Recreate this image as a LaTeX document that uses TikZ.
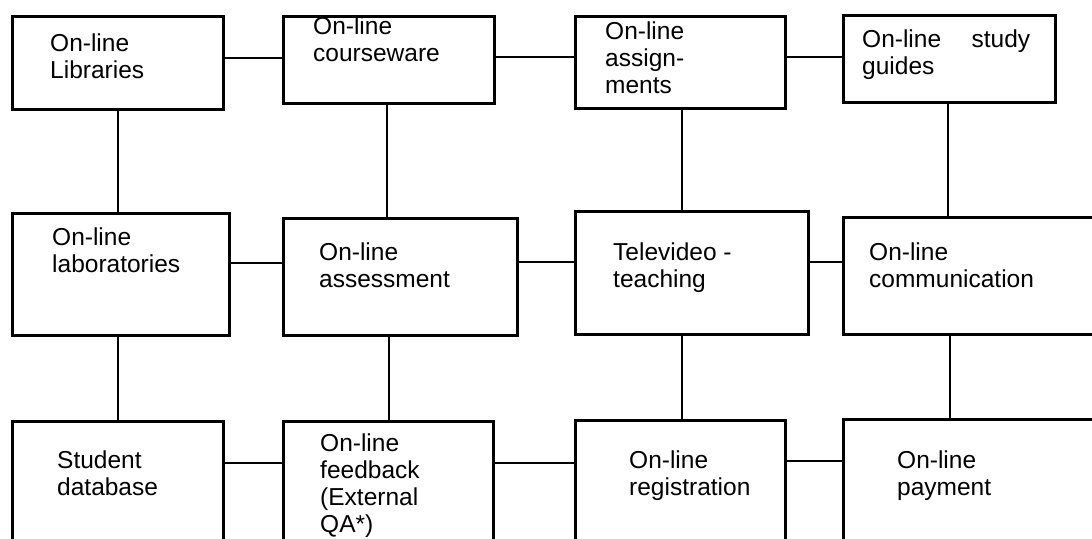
\documentclass[tikz,border=0pt]{standalone}
\usepackage{fontspec}
\setmainfont{Liberation Sans}
\begin{document}
\begin{tikzpicture}[x=1pt,y=-1pt,
  box/.style={draw=black, line width=2.7pt, rectangle, anchor=north west, inner sep=0pt},
  lbl/.style={anchor=base west, inner sep=0pt, align=left, font=\fontsize{24.5}{27}\selectfont},
  link/.style={draw=black, line width=2.2pt}]
\clip (0,0) rectangle (1092,538);
\fill[white] (0,0) rectangle (1092,538);
% boxes: (left, top), width, height
\node[box, minimum width=211pt, minimum height=93pt] (b1) at (11,15) {};
\node[box, minimum width=211pt, minimum height=87pt] (b2) at (282,15) {};
\node[box, minimum width=210pt, minimum height=92pt] (b3) at (574,15) {};
\node[box, minimum width=212pt, minimum height=87pt] (b4) at (842,14) {};
\node[box, minimum width=217pt, minimum height=122pt] (b5) at (11,212) {};
\node[box, minimum width=234pt, minimum height=117pt] (b6) at (282,217) {};
\node[box, minimum width=233pt, minimum height=123pt] (b7) at (574,210) {};
\node[box, minimum width=260pt, minimum height=117pt] (b8) at (842,216) {};
\node[box, minimum width=211pt, minimum height=150pt] (b9) at (11,420) {};
\node[box, minimum width=210pt, minimum height=150pt] (b10) at (282,420) {};
\node[box, minimum width=210pt, minimum height=150pt] (b11) at (574,419) {};
\node[box, minimum width=260pt, minimum height=150pt] (b12) at (842,418) {};
% texts (anchor = baseline of the last line)
\node[lbl] (t1) at (50,78) {On-line\\Libraries};
\node[lbl] (t2) at (313,61) {On-line\\courseware};
\node[lbl] (t3) at (605,93) {On-line\\assign-\\ments};
\node[lbl, text width=168pt] (t4) at (862,47) {On-line\hfill study\\guides};
\node[lbl] (t5) at (52,272) {On-line\\laboratories};
\node[lbl] (t6) at (319,287) {On-line\\assessment};
\node[lbl] (t7) at (613,287) {Televideo -\\teaching};
\node[lbl] (t8) at (869,287) {On-line\\communication};
\node[lbl] (t9) at (57,495) {Student\\database};
\node[lbl] (t10) at (320,532) {On-line\\feedback\\(External\\QA*)};
\node[lbl] (t11) at (629,495) {On-line\\registration};
\node[lbl] (t12) at (897,495) {On-line\\payment};
% horizontal connectors
\draw[link] (b1.east |- 0,58) -- (b2.west |- 0,58);
\draw[link] (b2.east |- 0,57) -- (b3.west |- 0,57);
\draw[link] (b3.east |- 0,57) -- (b4.west |- 0,57);
\draw[link] (b5.east |- 0,263) -- (b6.west |- 0,263);
\draw[link] (b6.east |- 0,262) -- (b7.west |- 0,262);
\draw[link] (b7.east |- 0,262) -- (b8.west |- 0,262);
\draw[link] (b9.east |- 0,463) -- (b10.west |- 0,463);
\draw[link] (b10.east |- 0,463) -- (b11.west |- 0,463);
\draw[link] (b11.east |- 0,461) -- (b12.west |- 0,461);
% vertical connectors
\draw[link] (b1.south -| 118,0) -- (b5.north -| 118,0);
\draw[link] (b2.south -| 387,0) -- (b6.north -| 387,0);
\draw[link] (b3.south -| 682,0) -- (b7.north -| 682,0);
\draw[link] (b4.south -| 948,0) -- (b8.north -| 948,0);
\draw[link] (b5.south -| 118,0) -- (b9.north -| 118,0);
\draw[link] (b6.south -| 389,0) -- (b10.north -| 389,0);
\draw[link] (b7.south -| 682,0) -- (b11.north -| 682,0);
\draw[link] (b8.south -| 950,0) -- (b12.north -| 950,0);
\end{tikzpicture}
\end{document}
